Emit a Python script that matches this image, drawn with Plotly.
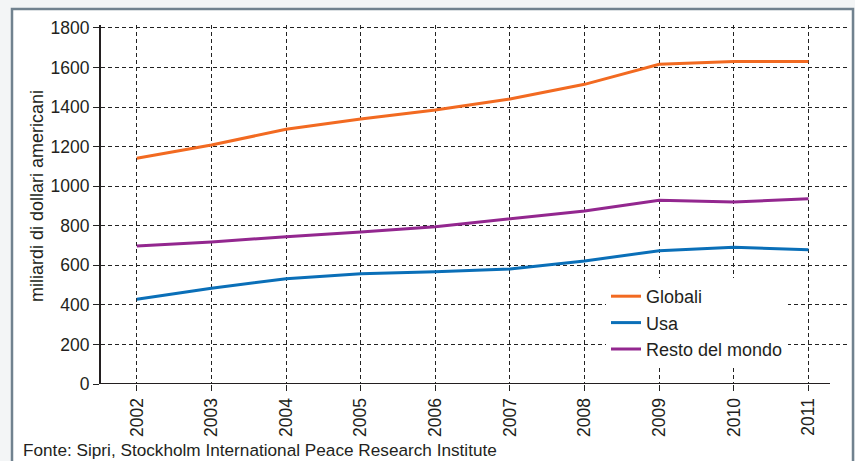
import plotly.graph_objects as go

# ---- data ----
years = [2002, 2003, 2004, 2005, 2006, 2007, 2008, 2009, 2010, 2011]
year_labels = [str(y) for y in years]
globali = [1141, 1208, 1288, 1340, 1385, 1441, 1515, 1616, 1631, 1630]
usa = [428, 484, 532, 558, 568, 581, 622, 674, 691, 679]
resto = [698, 718, 745, 768, 795, 834, 875, 929, 920, 937]
series_names = ["Globali", "Usa", "Resto del mondo"]
y_ticks = [0, 200, 400, 600, 800, 1000, 1200, 1400, 1600, 1800]

FONT = "Liberation Sans, Arial, sans-serif"
TXT = "#231f20"
GRID = "#222222"

fig = go.Figure()
for name, vals, col, grp in [
    (series_names[0], globali, "#f26a21", "a"),
    (series_names[1], usa, "#0a6fb8", "b"),
    (series_names[2], resto, "#93278f", "c"),
]:
    fig.add_trace(go.Scatter(x=years, y=vals, mode="lines", name=name,
                             legendgroup=grp,
                             line=dict(color=col, width=3)))

W, H = 855, 461
L, R, T, B = 101, 7, 25, 77

fig.update_layout(
    width=W, height=H,
    margin=dict(l=L, r=R, t=T, b=B),
    paper_bgcolor="#f3f5f6",
    plot_bgcolor="rgba(0,0,0,0)",
    font=dict(family=FONT, color=TXT, size=17),
    showlegend=True,
    legend=dict(x=(606 - L) / (W - L - R), y=(H - B - 278) / (H - B - T),
                xanchor="left", yanchor="top",
                bgcolor="white", borderwidth=0,
                font=dict(size=18, color=TXT),
                tracegroupgap=1,
                traceorder="normal"),
    xaxis=dict(range=[2001.52, 2011.53], tickmode="array",
               tickvals=years, ticktext=year_labels, tickangle=-90,
               showgrid=True, gridcolor=GRID, gridwidth=1.4, griddash="4px,3px",
               ticks="outside", ticklen=6, tickcolor=GRID, tickwidth=1.4,
               showline=False, zeroline=False,
               tickfont=dict(size=17.5, color=TXT)),
    yaxis=dict(range=[0, 1815], tickmode="array", tickvals=y_ticks,
               ticktext=[str(v) for v in y_ticks],
               showgrid=True, gridcolor=GRID, gridwidth=1.4, griddash="4px,3px",
               ticks="outside", ticklen=6, tickcolor=GRID, tickwidth=1.4,
               showline=True, linecolor=TXT, linewidth=2.2,
               zeroline=False, tickfont=dict(size=17.5, color=TXT)),
    shapes=[
        # outer frame
        dict(type="rect", xref="paper", yref="paper", layer="below",
             x0=(12 - L) / (W - L - R), x1=(853 - L) / (W - L - R),
             y0=(H - B - 475) / (H - B - T), y1=(H - B - 9) / (H - B - T),
             fillcolor="white", line=dict(color="#71828f", width=2.5)),
        # x axis line (ends short of the right edge)
        dict(type="line", xref="paper", yref="y", x0=0, x1=(830 - L) / (W - L - R),
             y0=0, y1=0, line=dict(color=TXT, width=2.2)),
    ],
    annotations=[
        dict(text="miliardi di dollari americani", xref="paper", yref="paper",
             x=(37 - L) / (W - L - R), y=(H - B - 196) / (H - B - T),
             xanchor="center", yanchor="middle", textangle=-90, showarrow=False,
             font=dict(size=18, color=TXT)),
        dict(text="Fonte: Sipri, Stockholm International Peace Research Institute",
             xref="paper", yref="paper",
             x=(21 - L) / (W - L - R), y=(H - B - 450) / (H - B - T),
             xanchor="left", yanchor="middle", showarrow=False,
             font=dict(size=17.2, color=TXT)),
    ],
)

fig.write_html("out.html")
